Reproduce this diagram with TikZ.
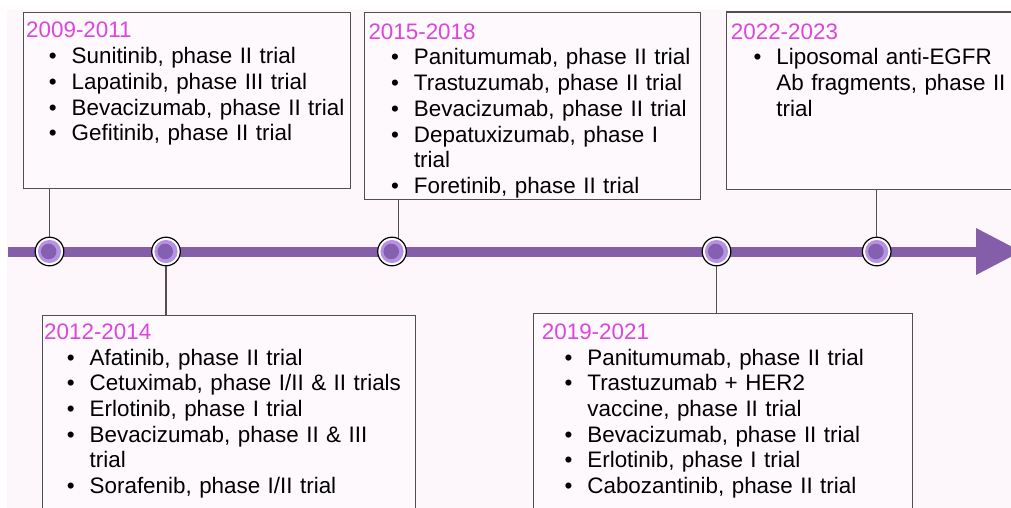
\documentclass[tikz,border=0pt]{standalone}
\usepackage{fontspec}
\setmainfont{Liberation Sans}
\usepackage{tikz}

\definecolor{yearpink}{RGB}{221,70,221}
\definecolor{barpurple}{RGB}{132,94,168}
\definecolor{dotlight}{RGB}{181,146,226}
\definecolor{dotdark}{RGB}{134,96,176}
\definecolor{pagepink}{RGB}{253,246,250}
\definecolor{boxpink}{RGB}{254,249,252}
\definecolor{edgegray}{RGB}{80,80,80}

\newcommand{\tlfont}{\fontsize{22.4}{25.7}\selectfont}
\newcommand{\tlyear}[1]{{\color{yearpink}#1}\par}
\newcommand{\tlitem}[1]{\hangindent=45.5pt\hangafter=1\noindent\hbox to 45.5pt{\hskip22.6pt\textbullet\hfil}#1\par}

\begin{document}
\begin{tikzpicture}[x=1pt,y=1pt]
    \tikzstyle{every node}+=[inner sep=0pt]
    \tikzstyle{yearbox}=[draw=edgegray, line width=1.3, fill=boxpink, anchor=north west]
    \tikzstyle{yearlist}=[anchor=base west, align=left, font=\tlfont]
    \tikzstyle{stem}=[draw=edgegray, line width=1.3]
    \tikzstyle{dot}=[circle, draw=black, line width=1.2, fill=white, minimum size=28.6,
        path picture={
            \fill [dotlight] (path picture bounding box.center) circle (11.6);
            \fill [dotdark] ([xshift=-0.8pt]path picture bounding box.center) circle (7.8);
        }]
    \useasboundingbox (0,0) rectangle (1011,-508);
    \clip (0,0) rectangle (1011,-508);
    \fill [pagepink] (7,-10) rectangle (1011,-508);
    % time axis
    \coordinate (start) at (8,-251.5);
    \coordinate (head) at (976,-251.5);
    \draw [barpurple, line width=10] (start) -- (head);
    \fill [barpurple] (head) ++(0,23.5) -- ++(45,-23.5) -- ++(-45,-23.5) -- cycle;
    % boxes
    \node [yearbox, minimum width=373.3, minimum height=230] (b2) at (41.7,-314.7) {};
    \node [yearbox, minimum width=327, minimum height=176] (b1) at (23,-12) {};
    \node [yearbox, minimum width=336, minimum height=187] (b3) at (364,-12) {};
    \node [yearbox, minimum width=379, minimum height=230] (b4) at (532.7,-313) {};
    \node [yearbox, draw=none, minimum width=330, minimum height=176] (b5) at (726.7,-12) {};
    \draw [edgegray, line width=1.3] (b5.north east) -- (b5.north west) -- (b5.south west) -- (b5.south east);
    % milestones
    \node [dot] (c1) at (49.5,-251.5) {};
    \node [dot] (c2) at (166,-251.5) {};
    \node [dot] (c3) at (392,-251.5) {};
    \node [dot] (c4) at (716.5,-251.5) {};
    \node [dot] (c5) at (876.7,-251.5) {};
    \draw [stem] (c1.north) -- (c1.north |- b1.south);
    \draw [stem] (c2.south) -- (c2.south |- b2.north);
    \draw [stem] (c3.65) -- (c3.65 |- b3.south);
    \draw [stem] (c4.south) -- (c4.south |- b4.north);
    \draw [stem] (c5.north) -- (c5.north |- b5.south);
    % texts
    \node [yearlist, text width=322] (t1) at (26,-38) {\tlyear{2009-2011}
        \tlitem{Sunitinib, phase II trial}
        \tlitem{Lapatinib, phase III trial}
        \tlitem{Bevacizumab, phase II trial}
        \tlitem{Gefitinib, phase II trial}};
    \node [yearlist, text width=368] (t2) at (44,-339.3) {\tlyear{2012-2014}
        \tlitem{Afatinib, phase II trial}
        \tlitem{Cetuximab, phase I/II \& II trials}
        \tlitem{Erlotinib, phase I trial}
        \tlitem{Bevacizumab, phase II \& III\newline trial}
        \tlitem{Sorafenib, phase I/II trial}};
    \node [yearlist, text width=330] (t3) at (368.3,-39.3) {\tlyear{2015-2018}
        \tlitem{Panitumumab, phase II trial}
        \tlitem{Trastuzumab, phase II trial}
        \tlitem{Bevacizumab, phase II trial}
        \tlitem{Depatuxizumab, phase I\newline trial}
        \tlitem{Foretinib, phase II trial}};
    \node [yearlist, text width=360] (t4) at (541.7,-339.3) {\tlyear{2019-2021}
        \tlitem{Panitumumab, phase II trial}
        \tlitem{Trastuzumab + HER2\newline vaccine, phase II trial}
        \tlitem{Bevacizumab, phase II trial}
        \tlitem{Erlotinib, phase I trial}
        \tlitem{Cabozantinib, phase II trial}};
    \node [yearlist, text width=275] (t5) at (730.7,-39.3) {\tlyear{2022-2023}
        \tlitem{Liposomal anti-EGFR\newline Ab fragments, phase II\newline trial}};
\end{tikzpicture}
\end{document}
